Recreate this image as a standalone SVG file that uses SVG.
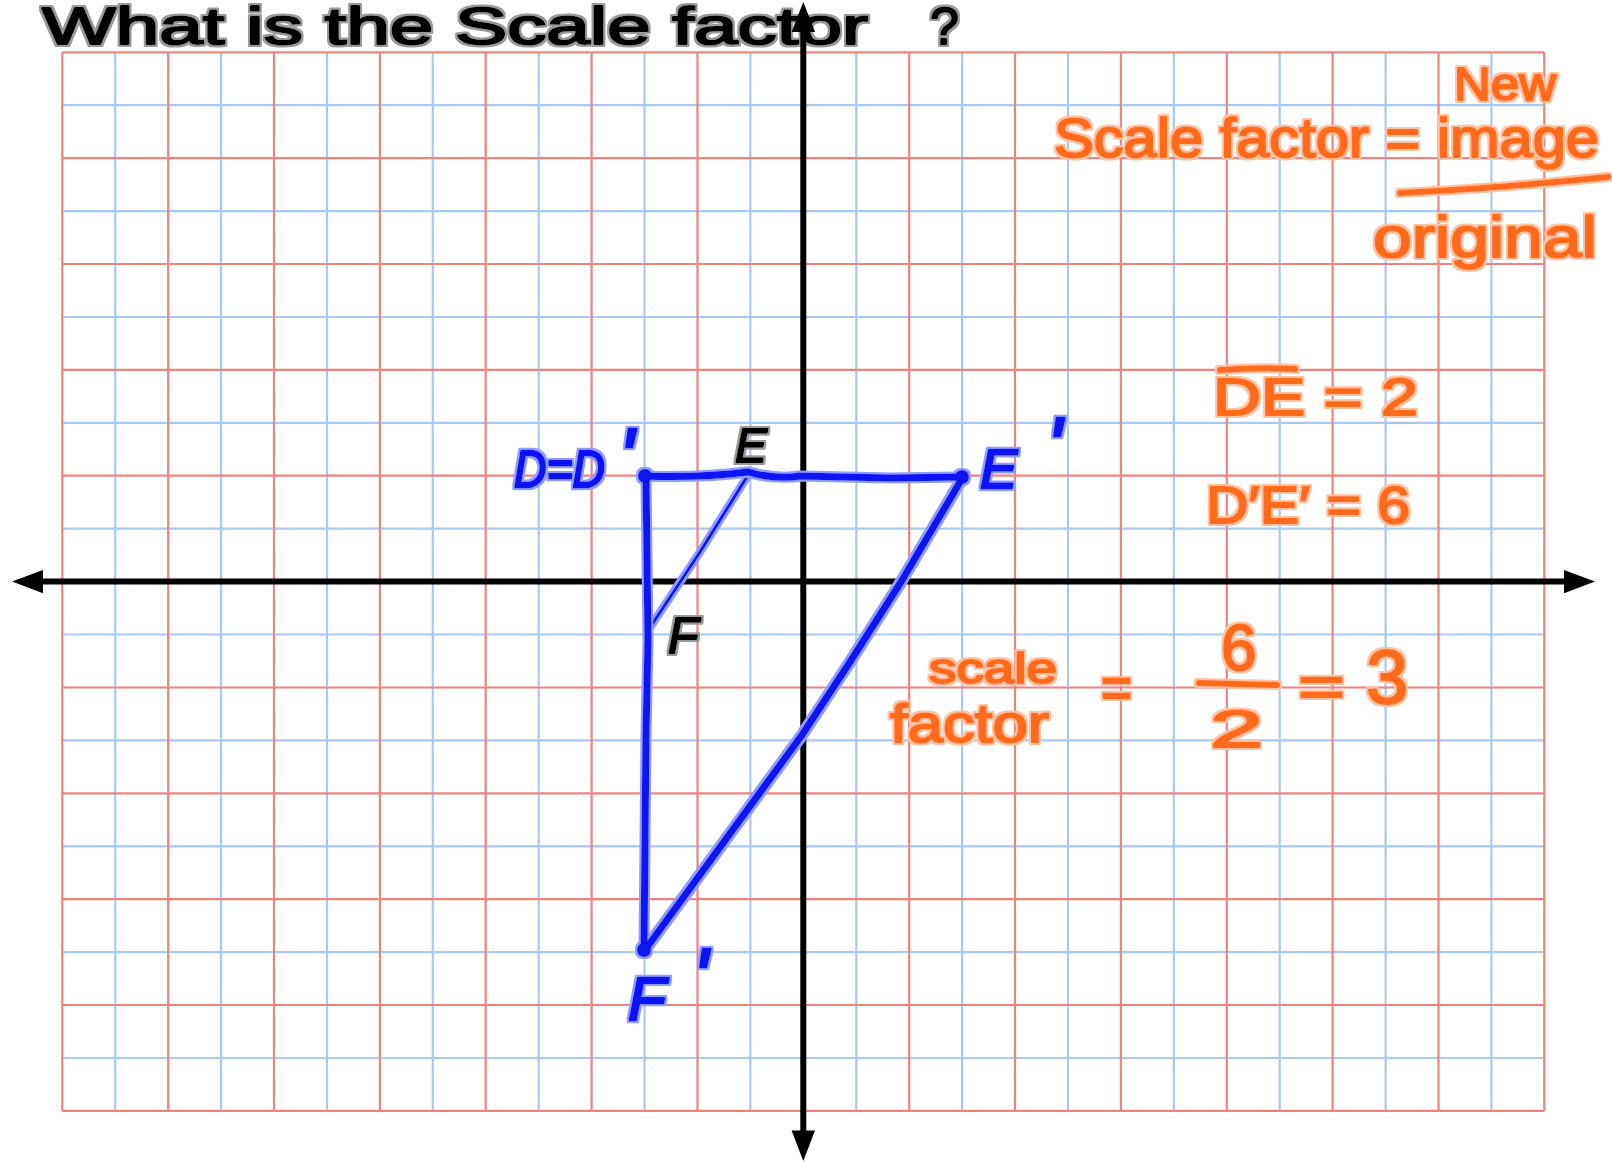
<svg xmlns="http://www.w3.org/2000/svg" width="1612" height="1162" viewBox="0 0 1612 1162">
<style>
.gb{stroke:#A9C9EE;stroke-width:2.2;fill:none}
.gr{stroke:#F08282;stroke-width:2.2;fill:none}
.axis{stroke:#000;stroke-width:6;fill:none}
.ah{fill:#000}
.or{font-family:"Liberation Sans",Arial,sans-serif;fill:#FF6A1A;stroke:#FF6A1A;stroke-width:2;stroke-linejoin:round}
.orl{stroke:#FF6A1A;stroke-width:6;fill:none;stroke-linecap:round}
.bl{font-family:"Liberation Sans",Arial,sans-serif;font-style:italic;fill:#0A12F2;stroke:#0A12F2;stroke-width:2.5;stroke-linejoin:round}
.bk{font-family:"Liberation Sans",Arial,sans-serif;fill:#000;stroke:#000;stroke-width:2;stroke-linejoin:round}
.it{font-style:italic}
.tri{stroke:#0A12F2;stroke-width:7;fill:none;stroke-linecap:round;stroke-linejoin:round}
.thin{stroke:#0A12F2;stroke-width:3;fill:none;stroke-linecap:round}
.dot{fill:#0A12F2}
</style>
<defs>
<filter id="haloO" x="-10%" y="-10%" width="120%" height="120%">
<feMorphology in="SourceAlpha" operator="dilate" radius="1.6" result="d"/>
<feFlood flood-color="#FFC2A0"/>
<feComposite in2="d" operator="in" result="h"/>
<feMerge><feMergeNode in="h"/><feMergeNode in="SourceGraphic"/></feMerge>
</filter>
<filter id="haloB" x="-10%" y="-10%" width="120%" height="120%">
<feMorphology in="SourceAlpha" operator="dilate" radius="1.6" result="d"/>
<feFlood flood-color="#8E9BFF"/>
<feComposite in2="d" operator="in" result="h"/>
<feMerge><feMergeNode in="h"/><feMergeNode in="SourceGraphic"/></feMerge>
</filter>
<filter id="haloK" x="-10%" y="-10%" width="120%" height="120%">
<feMorphology in="SourceAlpha" operator="dilate" radius="1.8" result="d"/>
<feFlood flood-color="#999999"/>
<feComposite in2="d" operator="in" result="h"/>
<feMerge><feMergeNode in="h"/><feMergeNode in="SourceGraphic"/></feMerge>
</filter>
</defs>
<rect width="1612" height="1162" fill="#fff"/>

<g id="title" filter="url(#haloK)">
<text class="bk" x="42" y="44" font-size="52" textLength="826" lengthAdjust="spacingAndGlyphs">What is the Scale factor</text>
<text class="bk" x="930" y="44" font-size="52">?</text>
</g>

<g id="grid">
<path class="gb" d="M115.2 52.3V1110.9M221.1 52.3V1110.9M327 52.3V1110.9M432.8 52.3V1110.9M538.7 52.3V1110.9M644.5 52.3V1110.9M750.4 52.3V1110.9M856.3 52.3V1110.9M962.1 52.3V1110.9M1068 52.3V1110.9M1173.8 52.3V1110.9M1279.7 52.3V1110.9M1385.6 52.3V1110.9M1491.4 52.3V1110.9M62.3 105.2H1544.3M62.3 211.1H1544.3M62.3 317H1544.3M62.3 422.8H1544.3M62.3 528.7H1544.3M62.3 634.5H1544.3M62.3 740.4H1544.3M62.3 846.3H1544.3M62.3 952.1H1544.3M62.3 1058H1544.3"/>
<path class="gr" d="M62.3 52.3V1110.9M168.2 52.3V1110.9M274 52.3V1110.9M379.9 52.3V1110.9M485.7 52.3V1110.9M591.6 52.3V1110.9M697.5 52.3V1110.9M803.3 52.3V1110.9M909.2 52.3V1110.9M1015 52.3V1110.9M1120.9 52.3V1110.9M1226.8 52.3V1110.9M1332.6 52.3V1110.9M1438.5 52.3V1110.9M1544.3 52.3V1110.9M62.3 52.3H1544.3M62.3 158.2H1544.3M62.3 264H1544.3M62.3 369.9H1544.3M62.3 475.7H1544.3M62.3 581.6H1544.3M62.3 687.5H1544.3M62.3 793.3H1544.3M62.3 899.2H1544.3M62.3 1005H1544.3M62.3 1110.9H1544.3"/>
</g>

<g id="axes">
<path class="axis" d="M40 581.6H1566M803.3 30V1132"/>
<path class="ah" d="M12 581.6L43 570V593.2Z"/>
<path class="ah" d="M1595 581.6L1564 570V593.2Z"/>
<path class="ah" d="M803.3 2L791.6 32H815Z"/>
<path class="ah" d="M803.3 1161L791.6 1130.5H815Z"/>
</g>

<g id="original-triangle" filter="url(#haloB)">
<path class="thin" d="M750 472L700 552L647 632"/>
</g>

<g id="image-triangle" filter="url(#haloB)">
<path class="tri" d="M645 476Q700 478 748 472Q776 480 800 476L890 478L962 477"/>
<path class="tri" d="M646 476L648 640L646 735L644 950"/>
<path class="tri" d="M645 950L802 735L850 662L901 582L963 477"/>
<circle class="dot" cx="645" cy="476" r="7"/>
<circle class="dot" cx="962" cy="477" r="7"/>
<circle class="dot" cx="644" cy="950" r="7"/>
</g>

<g id="labels-blue" filter="url(#haloB)">
<text class="bl" x="514" y="487" font-size="52" textLength="91" lengthAdjust="spacingAndGlyphs">D=D</text>
<text class="bl" x="618" y="486" font-size="84">'</text>
<text class="bl" x="980" y="488" font-size="56">E</text>
<text class="bl" x="1046" y="475" font-size="84">'</text>
<text class="bl" x="628" y="1020" font-size="62">F</text>
<text class="bl" x="692" y="1006" font-size="84">'</text>
</g>

<g id="labels-black" filter="url(#haloK)">
<text class="bk it" x="735" y="462" font-size="48">E</text>
<text class="bk it" x="668" y="653" font-size="50">F</text>
</g>

<g id="formula" filter="url(#haloO)">
<text class="or" x="1454" y="100" font-size="46" textLength="102" lengthAdjust="spacingAndGlyphs">New</text>
<text class="or" x="1054" y="157" font-size="56" textLength="545" lengthAdjust="spacingAndGlyphs">Scale factor = image</text>
<path class="orl" d="M1400 193Q1500 188 1608 177"/>
<text class="or" x="1373" y="257" font-size="58" textLength="224" lengthAdjust="spacingAndGlyphs">original</text>
</g>

<g id="lengths" filter="url(#haloO)">
<path class="orl" d="M1220 370Q1258 367 1295 369"/>
<text class="or" x="1213" y="415" font-size="52" textLength="205" lengthAdjust="spacingAndGlyphs">DE = 2</text>
<text class="or" x="1206" y="523" font-size="52" textLength="204" lengthAdjust="spacingAndGlyphs">D′E′ = 6</text>
</g>

<g id="scale-factor" filter="url(#haloO)">
<text class="or" x="929" y="683" font-size="42" textLength="128" lengthAdjust="spacingAndGlyphs">scale</text>
<text class="or" x="890" y="742" font-size="54" textLength="159" lengthAdjust="spacingAndGlyphs">factor</text>
<text class="or" x="1101" y="708" font-size="60" textLength="31" lengthAdjust="spacingAndGlyphs">=</text>
<text class="or" x="1221" y="670" font-size="64">6</text>
<path class="orl" d="M1199 683L1277 685"/>
<text class="or" x="1210" y="747" font-size="52" textLength="53" lengthAdjust="spacingAndGlyphs">2</text>
<text class="or" x="1298" y="707" font-size="60" textLength="47" lengthAdjust="spacingAndGlyphs">=</text>
<text class="or" x="1366" y="703" font-size="76">3</text>
</g>
</svg>
